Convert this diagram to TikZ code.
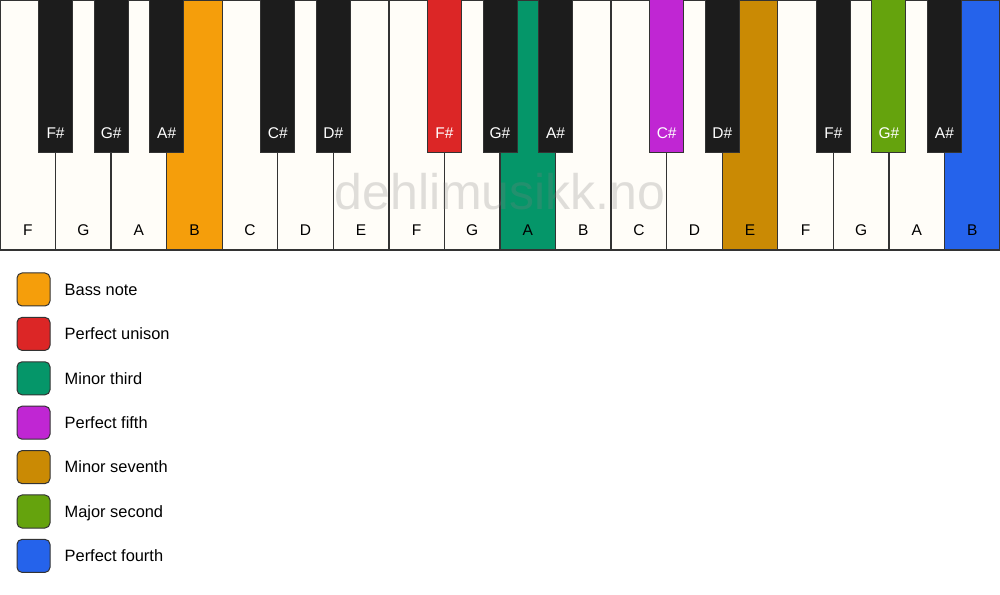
\documentclass[tikz,border=0pt]{standalone}
\usepackage{fontspec}
\setmainfont{Liberation Sans}
\usetikzlibrary{positioning}
\definecolor{keyivory}{RGB}{255,253,248}
\definecolor{keyblack}{RGB}{28,28,28}
\definecolor{keyline}{RGB}{51,51,51}
\definecolor{bassorange}{RGB}{245,158,11}
\definecolor{unisonred}{RGB}{220,38,38}
\definecolor{thirdgreen}{RGB}{5,150,105}
\definecolor{fifthpurple}{RGB}{192,38,211}
\definecolor{seventhgold}{RGB}{202,138,4}
\definecolor{secondlime}{RGB}{101,163,13}
\definecolor{fourthblue}{RGB}{37,99,235}
\definecolor{markgray}{RGB}{128,128,128}

\begin{document}
\begin{tikzpicture}[x=1pt,y=1pt,node distance=14pt,
    whitekey/.style={draw=keyline,line width=1.3pt,fill=keyivory,anchor=north west,
        minimum width=55.56pt,minimum height=250pt,inner sep=0pt,outer sep=0pt},
    blackkey/.style={draw=keyline,line width=1pt,fill=keyblack,anchor=north,
        minimum width=34pt,minimum height=153pt,inner sep=0pt,outer sep=0pt},
    keytext/.style={font=\fontsize{15.5}{18}\selectfont,anchor=base,inner sep=0pt},
    swatch/.style={draw=keyline,line width=1pt,rounded corners=5pt,
        minimum size=33pt,inner sep=0pt},
    legendtext/.style={font=\fontsize{16.4}{19}\selectfont,text height=11.5pt,text depth=0pt,inner sep=0pt}]
    \useasboundingbox (0,0) rectangle (1000,594);
    \fill[white] (0,0) rectangle (1000,594);

    % white keys
    \foreach \name [count=\i from 0] in {F,G,A,B,C,D,E,F,G,A,B,C,D,E,F,G,A,B} {
        \node[whitekey] (w\i) at (\i*55.556,594) {};
    }
    \node[whitekey,fill=bassorange]  at (w3.north west)  {};
    \node[whitekey,fill=thirdgreen]  at (w9.north west)  {};
    \node[whitekey,fill=seventhgold] at (w13.north west) {};
    \node[whitekey,fill=fourthblue]  at (w17.north west) {};
    \foreach \name [count=\i from 0] in {F,G,A,B,C,D,E,F,G,A,B,C,D,E,F,G,A,B} {
        \node[keytext] (wl\i) at ([yshift=14pt]w\i.south) {\name};
    }

    % black keys
    \foreach \pos/\name/\col in {1/F\#/keyblack,2/G\#/keyblack,3/A\#/keyblack,
            5/C\#/keyblack,6/D\#/keyblack,8/F\#/unisonred,9/G\#/keyblack,
            10/A\#/keyblack,12/C\#/fifthpurple,13/D\#/keyblack,15/F\#/keyblack,
            16/G\#/secondlime,17/A\#/keyblack} {
        \node[blackkey,fill=\col] (b\pos) at (w\pos.north west) {};
        \node[keytext,text=white] (bl\pos) at ([yshift=14pt]b\pos.south) {\name};
    }

    % watermark
    \node[font=\fontsize{50}{60}\selectfont,text=markgray,opacity=0.25,inner sep=0pt]
        (mark) at (500,402) {dehlimusikk.no};

    % legend
    \foreach \col/\txt [count=\k] in {bassorange/Bass note,unisonred/Perfect unison,
            thirdgreen/Minor third,fifthpurple/Perfect fifth,seventhgold/Minor seventh,
            secondlime/Major second,fourthblue/Perfect fourth} {
        \node[swatch,fill=\col] (sw\k) at (33.5,594-289.5-44.4*\k+44.4) {};
        \node[legendtext,anchor=west] (lt\k) [right=14pt of sw\k.east] {\txt};
    }
\end{tikzpicture}
\end{document}
